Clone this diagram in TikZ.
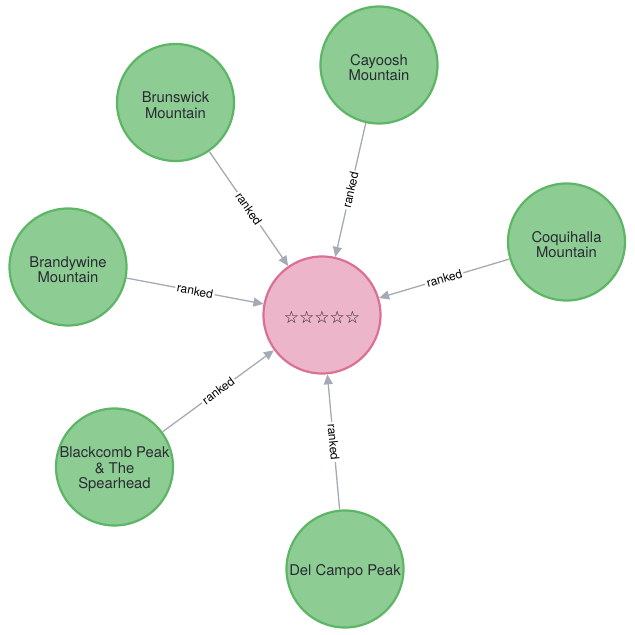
\documentclass[tikz,border=0pt]{standalone}
\usepackage{fontspec}
\setmainfont{TeX Gyre Heros}
\newfontfamily\symfont{DejaVu Sans}
\usetikzlibrary{arrows.meta}
\definecolor{gfill}{HTML}{8DCC93}
\definecolor{gline}{HTML}{5DB665}
\definecolor{pfill}{HTML}{ECB5C9}
\definecolor{pline}{HTML}{DA7194}
\definecolor{edgecol}{HTML}{A5ABB6}
\definecolor{txt}{HTML}{2A2C34}
\tikzset{
  ball/.style={circle, line width=2.2pt, minimum size=117pt, inner sep=0pt},
  peak/.style={ball, draw=gline, fill=gfill},
  rating/.style={ball, draw=pline, fill=pfill},
  peaktext/.style={align=center, text=txt, yshift=-2.5pt, inner sep=0pt,
    font=\fontsize{14.8}{15.5}\selectfont},
  startext/.style={text=txt!70!black, yshift=-2.5pt, inner sep=0pt,
    font=\symfont\fontsize{17}{18}\selectfont},
  rel/.style={draw=edgecol, line width=1.3pt, -{Triangle[length=10pt,width=9pt]}},
  lbl/.style={sloped, fill=white, inner sep=1.8pt, text=black, font=\fontsize{12}{12}\selectfont}
}
\begin{document}
\begin{tikzpicture}[x=1pt,y=-1pt]
\useasboundingbox[fill=white] (0,0) rectangle (635,635);
\node[rating, label={[startext]center:☆☆☆☆☆}] (c) at (322,315) {};
\node[peak, label={[peaktext]center:Cayoosh\\Mountain}] (cay) at (379,65) {};
\node[peak, label={[peaktext]center:Brunswick\\Mountain}] (bru) at (175.5,102.5) {};
\node[peak, label={[peaktext]center:Brandywine\\Mountain}] (bra) at (68,267) {};
\node[peak, label={[peaktext]center:Coquihalla\\Mountain}] (coq) at (566.5,242) {};
\node[peak, label={[peaktext]center:Blackcomb Peak\\\& The\\Spearhead}] (bla) at (114.5,467) {};
\node[peak, label={[peaktext]center:Del Campo Peak}] (del) at (345,569) {};
\draw[rel] (cay) -- node[lbl] {ranked} (c);
\draw[rel] (bru) -- node[lbl] {ranked} (c);
\draw[rel] (bra) -- node[lbl] {ranked} (c);
\draw[rel] (coq) -- node[lbl] {ranked} (c);
\draw[rel] (bla) -- node[lbl] {ranked} (c);
\draw[rel] (del) -- node[lbl] {ranked} (c);
\end{tikzpicture}
\end{document}
